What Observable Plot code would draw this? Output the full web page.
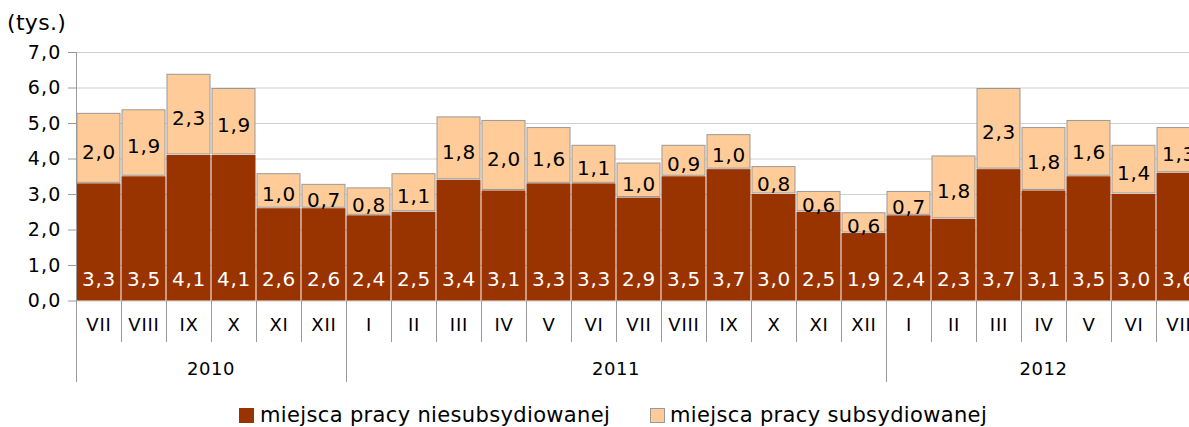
<!DOCTYPE html>
<html><head><meta charset="utf-8">
<script src="https://cdn.jsdelivr.net/npm/d3@7"></script>
<script src="https://cdn.jsdelivr.net/npm/@observablehq/plot@0.6"></script>
<style>
html,body{margin:0;padding:0;background:#fff;overflow:hidden;width:1189px;height:427px}
#wrap{position:relative;width:1189px;height:427px;font-family:"DejaVu Sans",Verdana,sans-serif;color:#000;overflow:hidden}
#chart{position:absolute;left:0;top:0}
#unit{position:absolute;left:7px;top:12px;font-size:22px;line-height:22px;letter-spacing:0.3px}
.leg{position:absolute;top:406px;font-size:21px;line-height:19px;white-space:nowrap;letter-spacing:0.35px}
.sw{position:absolute;width:15px;height:15px;top:408px;box-sizing:border-box}
svg [aria-label^="y-axis"] path, svg [aria-label^="y-axis"] line{stroke:#9a9a9a}
</style></head><body>
<div id="wrap">
  <div id="chart"></div>
  <div id="unit">(tys.)</div>
  <div id="legend"></div>
</div>
<script>
// ---- data ----
const months = ["VII","VIII","IX","X","XI","XII",
  "I","II","III","IV","V","VI","VII","VIII","IX","X","XI","XII",
  "I","II","III","IV","V","VI","VII"];
const years = [2010,2010,2010,2010,2010,2010,
  2011,2011,2011,2011,2011,2011,2011,2011,2011,2011,2011,2011,
  2012,2012,2012,2012,2012,2012,2012];
const niesubsydiowane = [3.3,3.5,4.1,4.1,2.6,2.6,
  2.4,2.5,3.4,3.1,3.3,3.3,2.9,3.5,3.7,3.0,2.5,1.9,
  2.4,2.3,3.7,3.1,3.5,3.0,3.6];
const subsydiowane = [2.0,1.9,2.3,1.9,1.0,0.7,
  0.8,1.1,1.8,2.0,1.6,1.1,1.0,0.9,1.0,0.8,0.6,0.6,
  0.7,1.8,2.3,1.8,1.6,1.4,1.3];
const seriesNames = ["miejsca pracy niesubsydiowanej","miejsca pracy subsydiowanej"];
const seriesColors = ["#993300","#FFCC99"];
const unitLabel = "(tys.)";

// ---- build ----
const rows = months.map((m,i)=>({key: years[i]+"-"+m, month: m, year: years[i],
  bottom: niesubsydiowane[i], top: subsydiowane[i]}));
const fmt = v => (+v).toFixed(1).replace(".", ",");
const H = 390;
const chart = Plot.plot({
  width: 1189, height: H,
  marginLeft: 76, marginRight: 0, marginTop: 52, marginBottom: H - 300.5,
  style: {fontFamily: '"DejaVu Sans", Verdana, sans-serif', fontSize: "19px", background: "transparent", overflow: "hidden", color: "#000"},
  x: {type: "band", domain: rows.map(d=>d.key), range: [76, 1201], padding: 0, axis: null},
  y: {domain: [0,7], range: [300.5, 52], ticks: 7, tickFormat: fmt, tickSize: 8, tickPadding: 7, label: null},
  marks: [
    Plot.ruleY(d3.range(0, 8), {stroke: "#d0d0d0"}),
    Plot.barY(rows, {x: "key", y1: 0, y2: "bottom", fill: seriesColors[0], insetLeft: 0.5, insetRight: 0.5}),
    Plot.barY(rows, {x: "key", y1: "bottom", y2: d => d.bottom + d.top, fill: seriesColors[1], stroke: "#999", inset: 1}),
    Plot.text(rows, {x: "key", y: 0, dy: -21, text: d => fmt(d.bottom), fill: "white", fontSize: 20}),
    Plot.text(rows, {x: "key", y: d => d.bottom + d.top / 2, dy: 4, text: d => fmt(d.top), fill: "black", fontSize: 20}),
    Plot.text(rows, {x: "key", frameAnchor: "bottom", dy: 30, text: "month", fontSize: 18})
  ]
});
document.getElementById("chart").appendChild(chart);
document.getElementById("unit").textContent = unitLabel;

const svg = d3.select(chart);
svg.selectAll('g[aria-label="text"] text').style("letter-spacing", "0.8px");
svg.selectAll('[aria-label^="y-axis"]').attr("font-size", 19).style("font-size", "19px");
svg.selectAll('[aria-label^="y-axis"] text').attr("font-size", 19)
  .style("font-size", "19px").style("letter-spacing", "1.2px");

// category separators and year labels, positioned by the plot's x scale
const xs = chart.scale("x");
const band = xs.apply ? xs.apply : d3.scaleBand().domain(xs.domain).range(xs.range).padding(0);
const bw = xs.bandwidth;
const g = svg.append("g").attr("stroke", "#9a9a9a").attr("stroke-width", 1);
rows.forEach((d, i) => {
  const x0 = Math.round(band(d.key)) + 0.5;
  const yearStart = i === 0 || rows[i-1].year !== d.year;
  g.append("line").attr("x1", x0).attr("x2", x0)
    .attr("y1", i === 0 ? 52 : 300.5).attr("y2", yearStart ? 382 : 342);
});
[...new Set(years)].forEach(y => {
  const ks = rows.filter(d => d.year === y);
  const a = band(ks[0].key), b = band(ks[ks.length-1].key) + bw;
  svg.append("text").attr("x", (a + b) / 2).attr("y", 369).attr("dy", "0.35em")
    .attr("text-anchor", "middle").attr("font-size", 18).attr("fill", "#000")
    .style("letter-spacing", "0.6px").text(y);
});

// legend
const leg = document.getElementById("legend");
const swX = [239, 650], txX = [260, 670];
seriesNames.forEach((n, i) => {
  const s = document.createElement("div");
  s.className = "sw"; s.style.left = swX[i] + "px"; s.style.background = seriesColors[i];
  if (i === 1) s.style.border = "1px solid #999";
  leg.appendChild(s);
  const t = document.createElement("div");
  t.className = "leg"; t.style.left = txX[i] + "px"; t.textContent = n;
  leg.appendChild(t);
});
</script>
</body></html>
